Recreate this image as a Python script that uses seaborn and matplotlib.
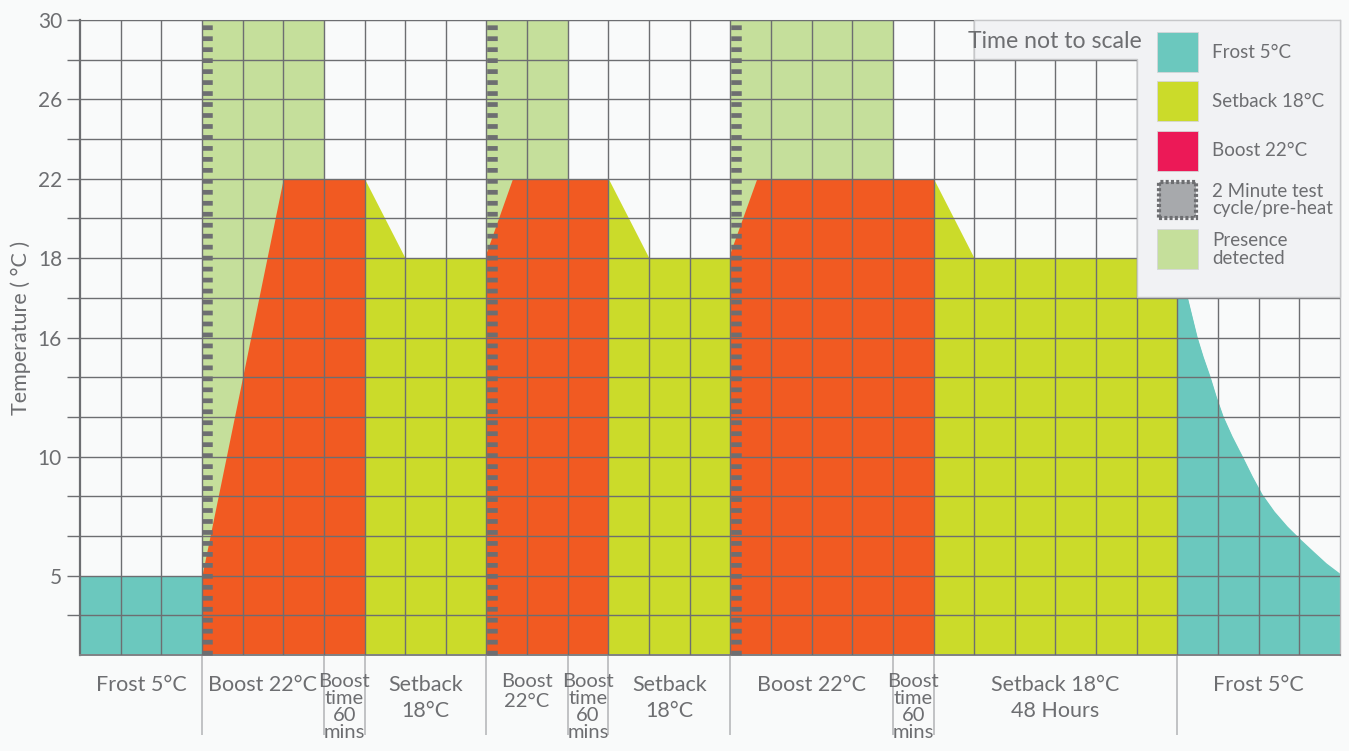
import numpy as np
import matplotlib
matplotlib.use("Agg")
import matplotlib.pyplot as plt
import matplotlib.transforms as mtransforms
from matplotlib.patches import Polygon, Rectangle
import seaborn as sns

# ---------------- data ----------------
TEMP_TICKS = [5, 10, 16, 18, 22, 26, 30]          # labelled temperatures
TEMP_ANCHORS = [0, 5, 10, 16, 18, 22, 26, 30]      # non-linear temperature axis
SCALE_POS = [0, 1, 2.5, 4, 5, 6, 7, 8]

frost1_x = [0, 3]
frost1_t = [5, 5]
boost1_x = [3, 5, 7]
boost1_t = [5, 22, 22]
setback1_x = [7, 8, 10]
setback1_t = [22, 18, 18]
boost2_x = [10, 10.64, 13]
boost2_t = [18.3, 22, 22]
setback2_x = [13, 14, 16]
setback2_t = [22, 18, 18]
boost3_x = [16, 16.65, 21]
boost3_t = [18.3, 22, 22]
setback3_x = [21, 22, 27]
setback3_t = [22, 18, 18]
frost2_x = [27, 27.11, 27.24, 27.36, 27.48, 27.63, 27.80, 27.95, 28.12, 28.34, 28.59,
            28.84, 29.08, 29.38, 29.70, 30.02, 30.34, 30.66, 31]
frost2_t = [18, 17.5, 17.0, 16.5, 16.0, 15.0, 14.0, 13.0, 12.0, 11.0, 10.0,
            9.14, 8.39, 7.67, 7.04, 6.5, 5.99, 5.49, 5.05]

presence_start = [3, 10, 16]
presence_end = [6, 12, 20]
precycle_x = [3, 10, 16]

BOUNDARIES = [0, 3, 6, 7, 10, 12, 13, 16, 20, 21, 27, 31]
PHASE_LABELS = ["Frost 5°C", "Boost 22°C", "Boost\ntime\n60\nmins", "Setback\n18°C",
                "Boost\n22°C", "Boost\ntime\n60\nmins", "Setback\n18°C", "Boost 22°C",
                "Boost\ntime\n60\nmins", "Setback 18°C\n48 Hours", "Frost 5°C"]
NARROW_PHASES = [2, 4, 5, 8]   # labels squeezed into narrow columns

LEGEND_LABELS = ["Frost 5°C", "Setback 18°C", "Boost 22°C",
                 "2 Minute test\ncycle/pre-heat", "Presence\ndetected"]

# ---------------- style ----------------
TEAL = "#6BC8BE"
YELLOW = "#CBDB2A"
ORANGE = "#F15A22"
GREEN = "#C5DF9B"
PINK = "#EC1957"
DGRAY = "#6D6E71"
SWGRAY = "#A7A9AC"
TXT = "#6D6E71"
BG = "#F9FAFA"

sns.set_theme(style="white")
plt.rcParams["font.family"] = ["Lato", "DejaVu Sans"]
plt.rcParams["lines.scale_dashes"] = False

W, H = 1349, 751
fig = plt.figure(figsize=(W / 100, H / 100), dpi=100, facecolor=BG)
ax = fig.add_axes([80 / W, 1 - 655 / H, 1260 / W, 635 / H])
ax.set_facecolor(BG)


def fwd(t):
    return np.interp(t, TEMP_ANCHORS, SCALE_POS)


def inv(p):
    return np.interp(p, SCALE_POS, TEMP_ANCHORS)


ax.set_yscale("function", functions=(fwd, inv))
ax.set_xlim(0, 31)
ax.set_ylim(0, 30)

# presence detected
for s, e in zip(presence_start, presence_end):
    ax.fill_between([s, e], [0, 0], [30, 30], color=GREEN, lw=0, zorder=1.0)

for xs, ts, c in [(frost1_x, frost1_t, TEAL), (boost1_x, boost1_t, ORANGE),
                  (setback1_x, setback1_t, YELLOW), (boost2_x, boost2_t, ORANGE),
                  (setback2_x, setback2_t, YELLOW), (boost3_x, boost3_t, ORANGE),
                  (setback3_x, setback3_t, YELLOW), (frost2_x, frost2_t, TEAL)]:
    ax.fill_between(xs, 0, ts, color=c, lw=0, zorder=1.2)

sns.lineplot(x=frost2_x, y=frost2_t, ax=ax, color=TEAL, lw=1.0, zorder=1.3,
             estimator=None, sort=False, legend=False)

# pre-heat dotted bars
off = mtransforms.offset_copy(ax.transData, fig=fig, x=5.25, y=0, units="dots")
for x in precycle_x:
    ax.plot([x, x], [0, 30], transform=off, color=DGRAY, lw=10.5 * 0.72,
            dashes=(3.4, 4.5), dash_capstyle="butt", solid_capstyle="butt",
            zorder=3, clip_on=False)

# grid & ticks
ax.set_axisbelow(False)
ax.set_xticks(range(1, 31))
ax.set_xticks([k for k in range(1, 31) if k not in BOUNDARIES], minor=True)
ax.set_xticklabels([])
ax.xaxis.grid(True, which="major", color=DGRAY, lw=1.0)
ax.tick_params(axis="x", which="major", length=0)
ax.tick_params(axis="x", which="minor", length=8.6, width=1.0, color=DGRAY,
               bottom=True, direction="out")

major_pos = fwd(TEMP_TICKS)
minor_pos = [p for p in np.arange(0.5, 8.01, 0.5) if not np.isclose(p, major_pos).any()]
ax.set_yticks(TEMP_TICKS)
ax.set_yticklabels([str(t) for t in TEMP_TICKS])
ax.set_yticks(inv(np.array(minor_pos)), minor=True)
ax.yaxis.set_minor_formatter(matplotlib.ticker.NullFormatter())
ax.yaxis.grid(True, which="both", color=DGRAY, lw=1.0)
ax.tick_params(axis="y", which="both", length=9.4, width=1.0, color=DGRAY,
               left=True, direction="out", pad=3.6, labelsize=15, labelcolor=TXT)

for side, col, lw in [("left", DGRAY, 1.6), ("bottom", "#808285", 1.4),
                      ("top", "#B5B6B8", 0.8), ("right", "#B5B6B8", 1.0)]:
    ax.spines[side].set_visible(True)
    ax.spines[side].set_color(col)
    ax.spines[side].set_linewidth(lw)

ax.set_ylabel("Temperature ( °C )", fontsize=15.5, color=TXT)
ax.yaxis.set_label_coords(-0.039, 0.515)

# phase separators and labels
xform = ax.get_xaxis_transform()
ax.vlines(BOUNDARIES[1:-1], -0.126, 0, transform=xform, color="#B8B9BB", lw=1.2,
          clip_on=False, zorder=0.5)
for i, (a, b, lab) in enumerate(zip(BOUNDARIES[:-1], BOUNDARIES[1:], PHASE_LABELS)):
    if i in NARROW_PHASES:
        ls = 0.98 if lab.count("\n") >= 3 else 1.2
        ax.text((a + b) / 2, -0.029, lab, transform=xform, ha="center", va="top",
                fontsize=14.5, color=TXT, linespacing=ls)
    else:
        ax.text((a + b) / 2, -0.031, lab, transform=xform, ha="center", va="top",
                fontsize=15.5, color=TXT, linespacing=1.4)


# ---------------- legend ----------------
def fx(x):
    return x / W


def fy(y):
    return 1 - y / H


box = Polygon([(fx(974), fy(20)), (fx(1340), fy(20)), (fx(1340), fy(297)),
               (fx(1137), fy(297)), (fx(1137), fy(59)), (fx(974), fy(59))],
              closed=True, transform=fig.transFigure, fc="#F1F2F4", ec="#C6C7C9",
              lw=1.0, zorder=5)
fig.add_artist(box)
fig.text(fx(968), fy(42), "Time not to scale", ha="left", va="center",
         fontsize=16.6, color=TXT, zorder=6)

LEGEND_COLORS = [TEAL, YELLOW, PINK, SWGRAY, GREEN]
for i, (lab, col) in enumerate(zip(LEGEND_LABELS, LEGEND_COLORS)):
    top = 32 + i * 49.3
    if i == 3:
        r = Rectangle((fx(1159), fy(top + 38)), 37 / W, 36 / H, transform=fig.transFigure,
                      fc=col, ec=DGRAY, lw=3.0, linestyle=(0, (2.2, 1.6)), zorder=6)
    else:
        r = Rectangle((fx(1157), fy(top + 40)), 41 / W, 40 / H, transform=fig.transFigure,
                      fc=col, ec="#D5D6D8", lw=0.6, zorder=6)
    fig.add_artist(r)
    fig.text(fx(1212), fy(top + 20), lab, ha="left", va="center", fontsize=13.5,
             color=TXT, linespacing=1.05, zorder=7)

fig.savefig("out.png", dpi=100, facecolor=BG)
